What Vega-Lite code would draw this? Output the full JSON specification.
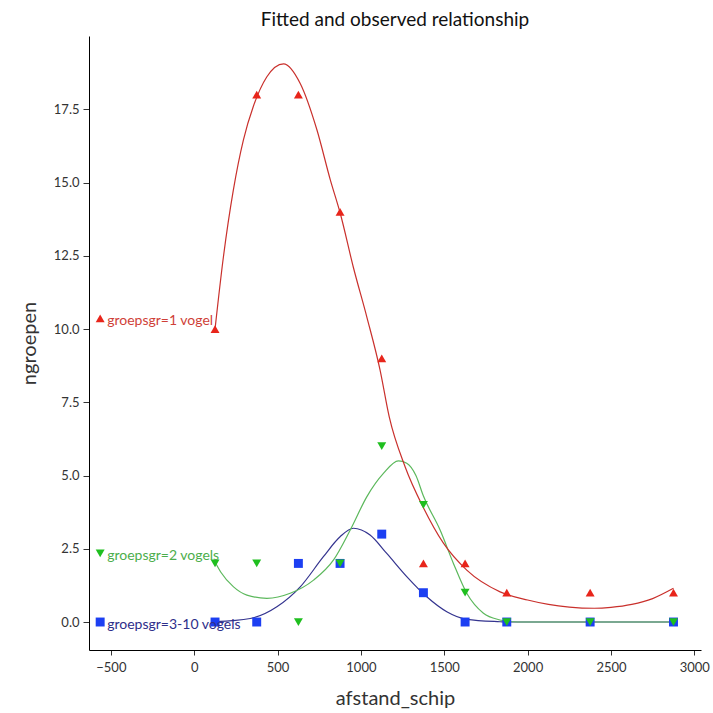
{
  "$schema": "https://vega.github.io/schema/vega-lite/v6.json",
  "autosize": "none",
  "width": 612,
  "height": 614,
  "padding": {"left": 89, "top": 36, "right": 12, "bottom": 63},
  "background": "white",
  "title": {
    "text": "Fitted and observed relationship",
    "font": "Lato",
    "fontSize": 19,
    "fontWeight": "normal",
    "color": "#111111",
    "anchor": "middle",
    "offset": 6
  },
  "config": {
    "view": {"stroke": null},
    "axis": {
      "grid": false,
      "domainColor": "#000000",
      "tickColor": "#333333",
      "labelFont": "Lato",
      "labelFontSize": 13,
      "labelColor": "#333333",
      "titleFont": "Lato",
      "titleFontWeight": "normal",
      "titleFontSize": 20,
      "titleColor": "#333333"
    }
  },
  "datasets": {
    "obs": [
      {"g": "1", "x": 125, "y": 10}, {"g": "1", "x": 375, "y": 18}, {"g": "1", "x": 625, "y": 18}, {"g": "1", "x": 875, "y": 14}, {"g": "1", "x": 1125, "y": 9},
      {"g": "1", "x": 1375, "y": 2}, {"g": "1", "x": 1625, "y": 2}, {"g": "1", "x": 1875, "y": 1}, {"g": "1", "x": 2375, "y": 1}, {"g": "1", "x": 2875, "y": 1},
      {"g": "3", "x": 125, "y": 0}, {"g": "3", "x": 375, "y": 0}, {"g": "3", "x": 625, "y": 2}, {"g": "3", "x": 875, "y": 2}, {"g": "3", "x": 1125, "y": 3},
      {"g": "3", "x": 1375, "y": 1}, {"g": "3", "x": 1625, "y": 0}, {"g": "3", "x": 1875, "y": 0}, {"g": "3", "x": 2375, "y": 0}, {"g": "3", "x": 2875, "y": 0},
      {"g": "2", "x": 125, "y": 2}, {"g": "2", "x": 375, "y": 2}, {"g": "2", "x": 625, "y": 0}, {"g": "2", "x": 875, "y": 2}, {"g": "2", "x": 1125, "y": 6},
      {"g": "2", "x": 1375, "y": 4}, {"g": "2", "x": 1625, "y": 1}, {"g": "2", "x": 1875, "y": 0}, {"g": "2", "x": 2375, "y": 0}, {"g": "2", "x": 2875, "y": 0}
    ],
    "fit": [
      {"g": "3", "x": 125, "y": 0.01}, {"g": "3", "x": 336, "y": 0.12}, {"g": "3", "x": 496, "y": 0.52}, {"g": "3", "x": 636, "y": 1.2}, {"g": "3", "x": 775, "y": 2.23},
      {"g": "3", "x": 875, "y": 2.91}, {"g": "3", "x": 955, "y": 3.2}, {"g": "3", "x": 1055, "y": 2.97}, {"g": "3", "x": 1155, "y": 2.34}, {"g": "3", "x": 1275, "y": 1.55},
      {"g": "3", "x": 1395, "y": 0.86}, {"g": "3", "x": 1515, "y": 0.35}, {"g": "3", "x": 1635, "y": 0.09}, {"g": "3", "x": 1835, "y": 0.01}, {"g": "3", "x": 1875, "y": 0}, {"g": "3", "x": 2875, "y": 0},
      {"g": "2", "x": 125, "y": 2.05}, {"g": "2", "x": 160, "y": 1.7}, {"g": "2", "x": 236, "y": 1.2}, {"g": "2", "x": 316, "y": 0.92}, {"g": "2", "x": 436, "y": 0.81},
      {"g": "2", "x": 576, "y": 0.98}, {"g": "2", "x": 716, "y": 1.43}, {"g": "2", "x": 836, "y": 2.12}, {"g": "2", "x": 936, "y": 3.14}, {"g": "2", "x": 1036, "y": 4.28},
      {"g": "2", "x": 1135, "y": 5.07}, {"g": "2", "x": 1225, "y": 5.5}, {"g": "2", "x": 1275, "y": 5.42}, {"g": "2", "x": 1330, "y": 5.0}, {"g": "2", "x": 1375, "y": 4.3},
      {"g": "2", "x": 1475, "y": 3.14}, {"g": "2", "x": 1555, "y": 2.0}, {"g": "2", "x": 1635, "y": 0.98}, {"g": "2", "x": 1735, "y": 0.3}, {"g": "2", "x": 1835, "y": 0.07},
      {"g": "2", "x": 1875, "y": 0.02}, {"g": "2", "x": 2000, "y": 0}, {"g": "2", "x": 2875, "y": 0},
      {"g": "1", "x": 125, "y": 10.0}, {"g": "1", "x": 175, "y": 12.45}, {"g": "1", "x": 235, "y": 14.75}, {"g": "1", "x": 295, "y": 16.45}, {"g": "1", "x": 355, "y": 17.6},
      {"g": "1", "x": 435, "y": 18.6}, {"g": "1", "x": 536, "y": 19.05}, {"g": "1", "x": 636, "y": 18.38}, {"g": "1", "x": 736, "y": 16.8}, {"g": "1", "x": 816, "y": 15.1},
      {"g": "1", "x": 876, "y": 13.95}, {"g": "1", "x": 955, "y": 12.1}, {"g": "1", "x": 1036, "y": 10.4}, {"g": "1", "x": 1115, "y": 8.6}, {"g": "1", "x": 1170, "y": 7.0},
      {"g": "1", "x": 1265, "y": 5.3}, {"g": "1", "x": 1375, "y": 3.9}, {"g": "1", "x": 1495, "y": 2.69}, {"g": "1", "x": 1635, "y": 1.77}, {"g": "1", "x": 1835, "y": 1.03},
      {"g": "1", "x": 2000, "y": 0.75}, {"g": "1", "x": 2125, "y": 0.6}, {"g": "1", "x": 2250, "y": 0.51}, {"g": "1", "x": 2400, "y": 0.47}, {"g": "1", "x": 2500, "y": 0.5},
      {"g": "1", "x": 2625, "y": 0.6}, {"g": "1", "x": 2750, "y": 0.8}, {"g": "1", "x": 2875, "y": 1.15}
    ],
    "legend": [
      {"g": "1", "x": -564, "y": 10.36, "label": "groepsgr=1 vogel"},
      {"g": "2", "x": -564, "y": 2.34, "label": "groepsgr=2 vogels"},
      {"g": "3", "x": -564, "y": 0.0, "label": "groepsgr=3-10 vogels"}
    ]
  },
  "encoding": {
    "x": {
      "field": "x", "type": "quantitative",
      "scale": {"domain": [-631, 3040], "nice": false, "zero": false},
      "axis": {"title": "afstand_schip", "format": "d", "values": [-500, 0, 500, 1000, 1500, 2000, 2500, 3000], "tickSize": 5, "labelPadding": 6, "titlePadding": 14}
    },
    "y": {
      "field": "y", "type": "quantitative",
      "scale": {"domain": [-0.955, 20], "nice": false, "zero": false},
      "axis": {"title": "ngroepen", "values": [0, 2.5, 5, 7.5, 10, 12.5, 15, 17.5], "format": ".1f", "tickSize": 6, "labelPadding": 4, "titlePadding": 14}
    }
  },
  "layer": [
    {
      "data": {"name": "fit"},
      "mark": {"type": "line", "interpolate": "monotone", "strokeWidth": 1.2},
      "encoding": {
        "detail": {"field": "g"},
        "color": {"field": "g", "type": "nominal", "legend": null,
          "scale": {"domain": ["1", "2", "3"], "range": ["#c9302c", "#5cb85c", "#34348f"]}}
      }
    },
    {
      "data": {"name": "obs"},
      "mark": {"type": "point", "filled": true, "opacity": 1, "size": 80},
      "encoding": {
        "color": {"field": "g", "type": "nominal", "legend": null,
          "scale": {"domain": ["1", "2", "3"], "range": ["#e8251b", "#1fbf1f", "#1c3ff2"]}},
        "shape": {"field": "g", "type": "nominal", "legend": null,
          "scale": {"domain": ["1", "2", "3"], "range": ["triangle-up", "triangle-down", "square"]}}
      }
    },
    {
      "data": {"name": "legend"},
      "mark": {"type": "point", "filled": true, "opacity": 1, "size": 80},
      "encoding": {
        "color": {"field": "g", "type": "nominal", "legend": null,
          "scale": {"domain": ["1", "2", "3"], "range": ["#e8251b", "#1fbf1f", "#1c3ff2"]}},
        "shape": {"field": "g", "type": "nominal", "legend": null,
          "scale": {"domain": ["1", "2", "3"], "range": ["triangle-up", "triangle-down", "square"]}}
      }
    },
    {
      "data": {"name": "legend"},
      "mark": {"type": "text", "align": "left", "baseline": "middle", "dx": 7, "dy": 3, "font": "Lato", "fontSize": 14},
      "encoding": {
        "text": {"field": "label"},
        "color": {"field": "g", "type": "nominal", "legend": null,
          "scale": {"domain": ["1", "2", "3"], "range": ["#cf3f38", "#4cae4c", "#2e2e8a"]}}
      }
    }
  ],
  "resolve": {"scale": {"color": "independent", "shape": "independent"}}
}
